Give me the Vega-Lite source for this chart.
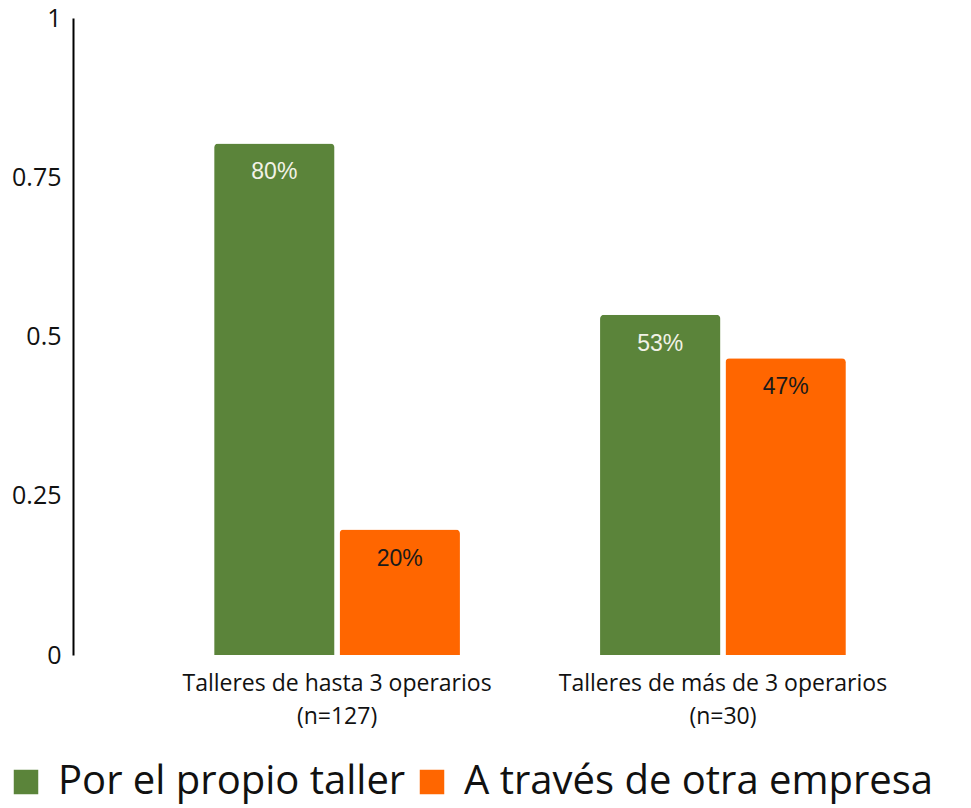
{
  "$schema": "https://vega.github.io/schema/vega-lite/v6.json",
  "width": 898,
  "height": 637,
  "autosize": {"type": "none"},
  "padding": {"left": 73, "top": 18, "right": 0, "bottom": 153},
  "background": "white",
  "config": {"view": {"stroke": null}},
  "data": {
    "values": [
      {"grupo": "Talleres de hasta 3 operarios|(n=127)", "serie": "Por el propio taller", "valor": 0.803, "etiqueta": "80%"},
      {"grupo": "Talleres de hasta 3 operarios|(n=127)", "serie": "A través de otra empresa", "valor": 0.197, "etiqueta": "20%"},
      {"grupo": "Talleres de más de 3 operarios|(n=30)", "serie": "Por el propio taller", "valor": 0.534, "etiqueta": "53%"},
      {"grupo": "Talleres de más de 3 operarios|(n=30)", "serie": "A través de otra empresa", "valor": 0.466, "etiqueta": "47%"}
    ]
  },
  "encoding": {
    "x": {
      "field": "grupo",
      "type": "nominal",
      "sort": null,
      "title": null,
      "scale": {"paddingInner": 0.363, "paddingOuter": 0.345, "align": 0.53},
      "axis": {
        "domain": false,
        "ticks": false,
        "labelAngle": 0,
        "labelExpr": "split(datum.value, '|')",
        "labelFont": "Open Sans",
        "labelFontSize": 23,
        "labelColor": "#111111",
        "labelPadding": 17,
        "labelLineHeight": 33,
        "labelLimit": 500
      }
    },
    "xOffset": {
      "field": "serie",
      "type": "nominal",
      "sort": ["Por el propio taller", "A través de otra empresa"],
      "scale": {"paddingInner": 0.04}
    }
  },
  "layer": [
    {
      "mark": {"type": "bar", "cornerRadiusTopLeft": 4, "cornerRadiusTopRight": 4},
      "encoding": {
        "y": {
          "field": "valor",
          "type": "quantitative",
          "title": null,
          "scale": {"domain": [0, 1], "nice": false},
          "axis": {
            "values": [0, 0.25, 0.5, 0.75, 1],
            "format": ".2~f",
            "grid": false,
            "ticks": false,
            "domainColor": "#000000",
            "domainWidth": 2,
            "labelFont": "Open Sans",
            "labelFontSize": 25,
            "labelColor": "#111111",
            "labelPadding": 12
          }
        },
        "color": {
          "field": "serie",
          "type": "nominal",
          "sort": ["Por el propio taller", "A través de otra empresa"],
          "scale": {"domain": ["Por el propio taller", "A través de otra empresa"], "range": ["#5B843A", "#FF6600"]},
          "legend": {
            "title": null,
            "orient": "none",
            "direction": "horizontal",
            "legendX": -67,
            "legendY": 744,
            "symbolType": "square",
            "symbolSize": 600,
            "symbolStrokeWidth": 0,
            "symbolOpacity": 1,
            "labelFont": "Open Sans",
            "labelFontSize": 40,
            "labelColor": "#111111",
            "labelLimit": 600,
            "labelOffset": 12,
            "columnPadding": 6
          }
        }
      }
    },
    {
      "mark": {"type": "text", "dy": 29, "baseline": "middle", "font": "Liberation Sans", "fontSize": 23},
      "encoding": {
        "y": {"field": "valor", "type": "quantitative"},
        "text": {"field": "etiqueta"},
        "color": {
          "condition": {"test": "datum.serie == 'Por el propio taller'", "value": "#F2F2E6"},
          "value": "#1a1a1a"
        }
      }
    }
  ]
}
